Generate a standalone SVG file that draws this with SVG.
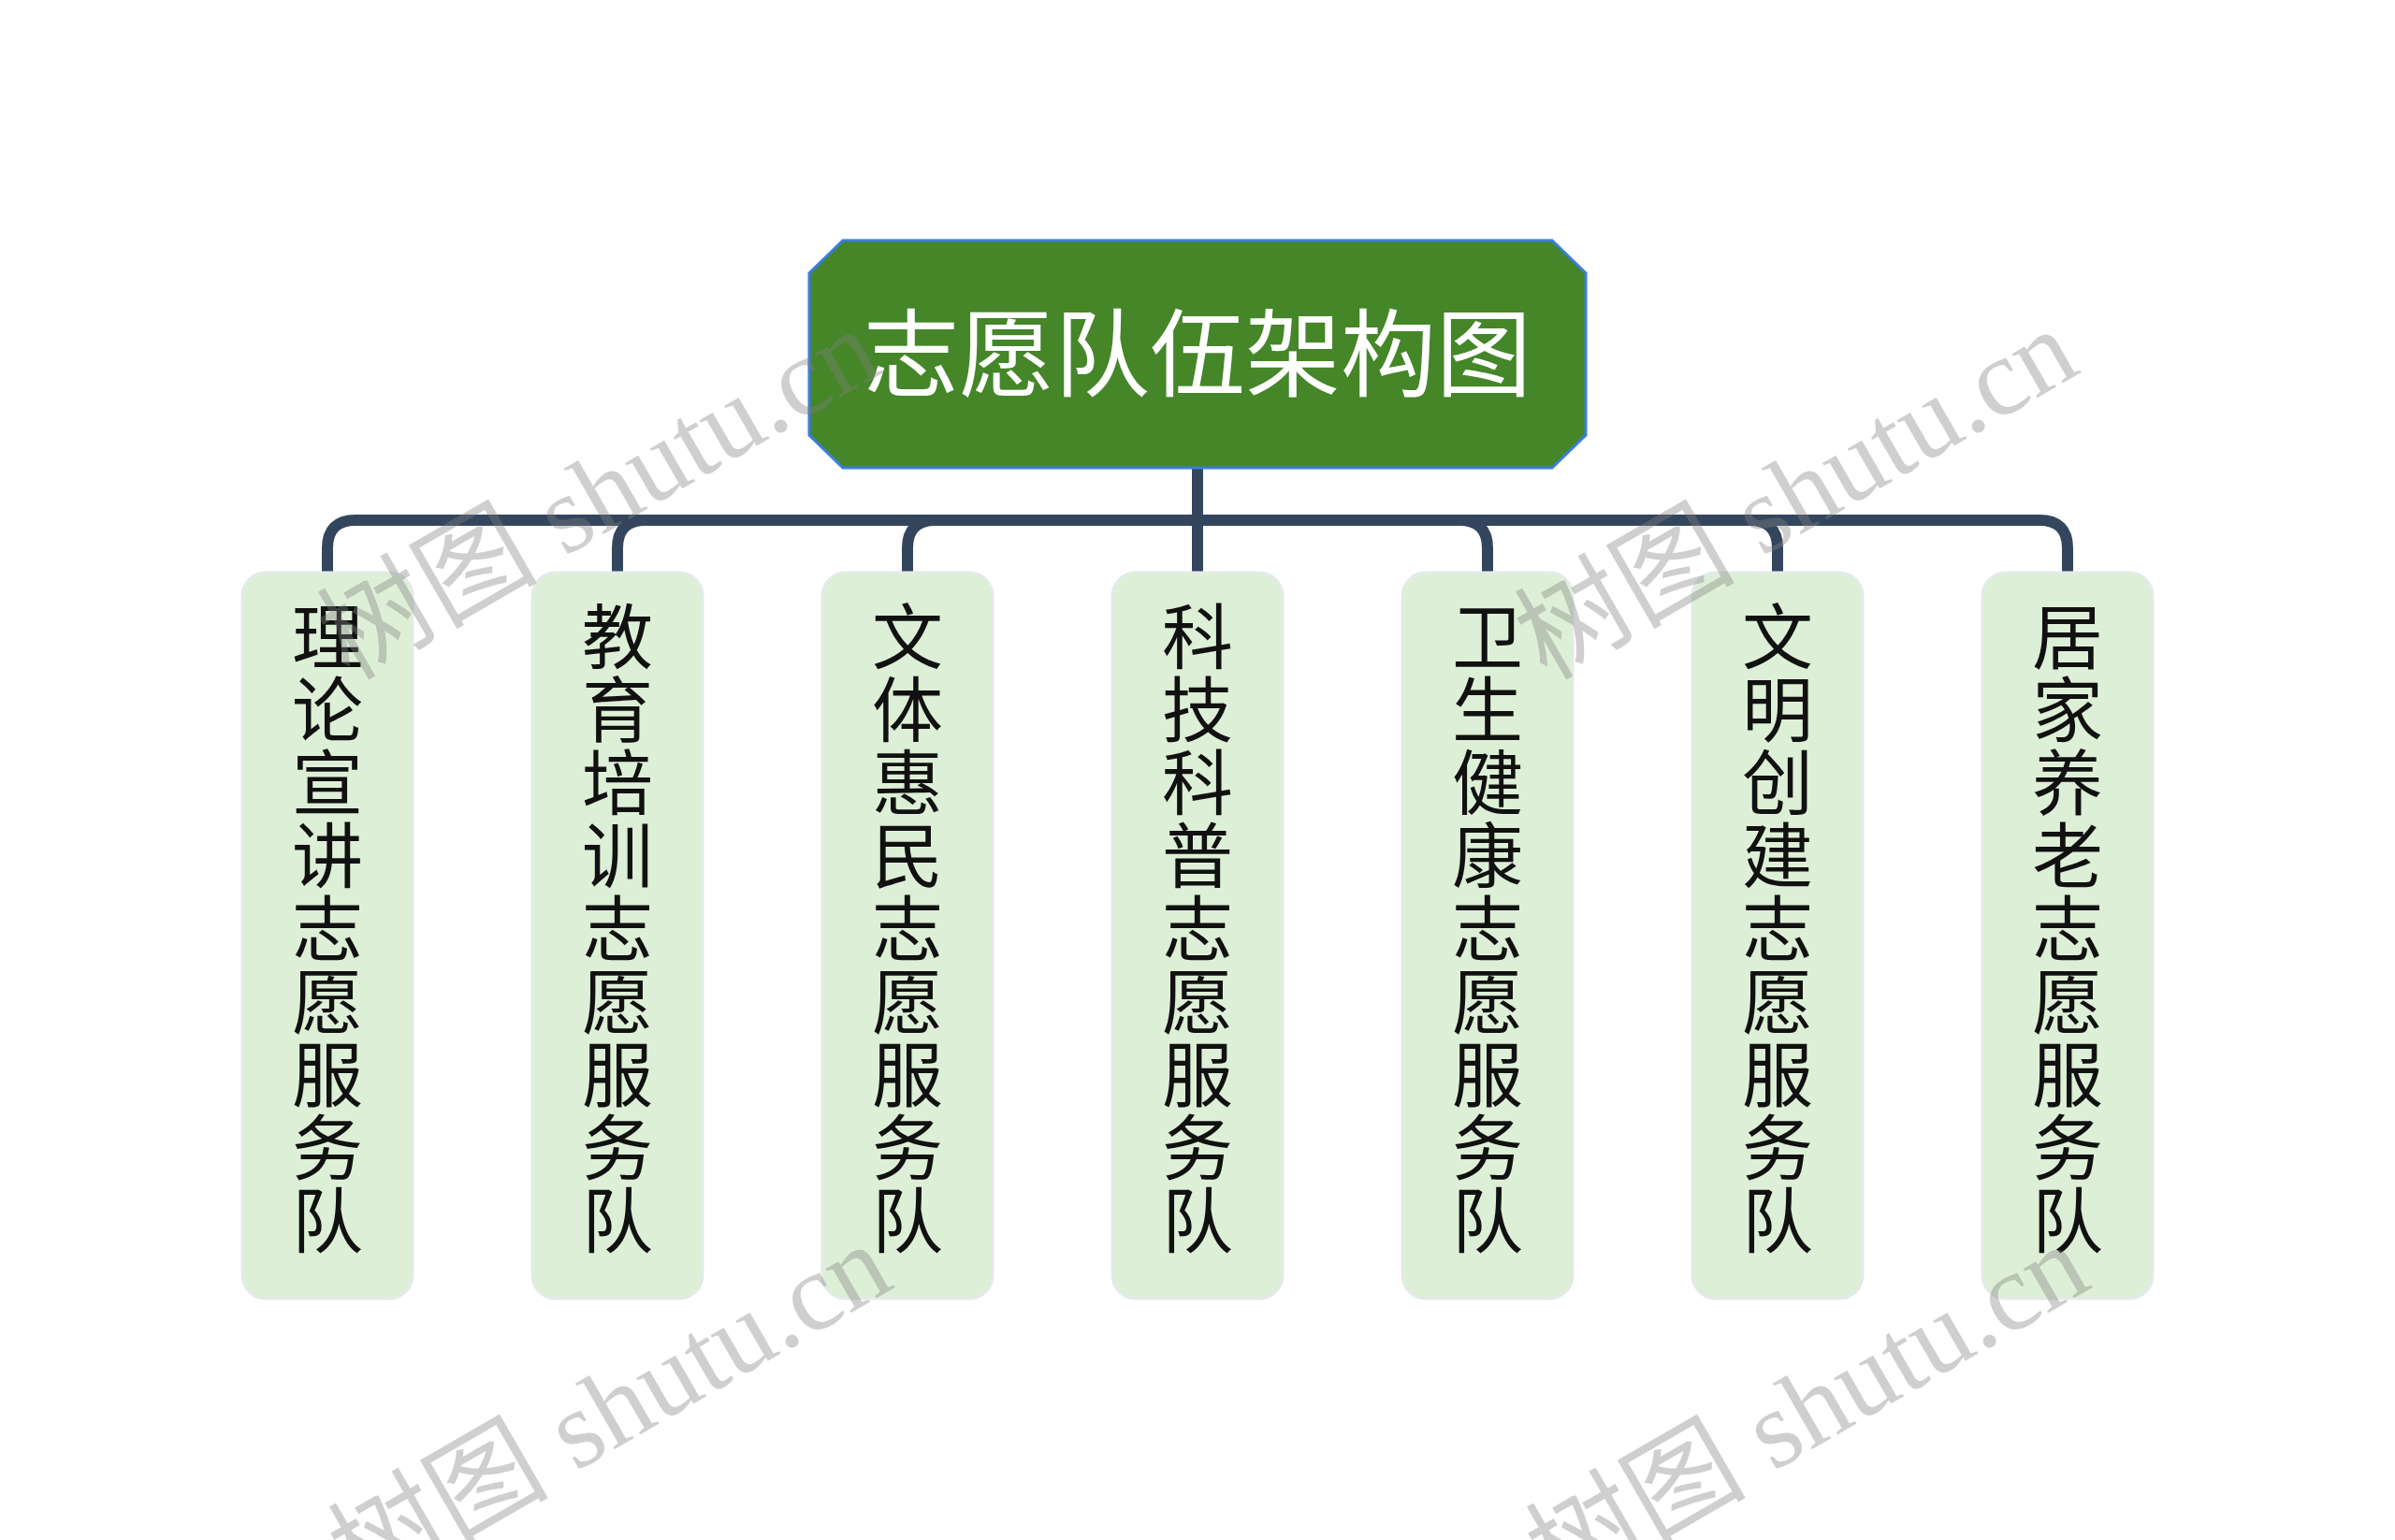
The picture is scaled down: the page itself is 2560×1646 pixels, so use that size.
<svg xmlns="http://www.w3.org/2000/svg" width="2560" height="1646" viewBox="0 0 2560 1646">
<style>
.conn{fill:none;stroke:#34465e;stroke-width:12}
.box{fill:#ddefd6;stroke:#e3ebe8;stroke-width:3}
.ct{font-family:"Noto Sans CJK SC","Noto Sans",sans-serif;font-size:76px;fill:#111;text-anchor:middle}
.tt{font-family:"Noto Sans CJK SC","Noto Sans",sans-serif;font-size:102px;fill:#ffffff;text-anchor:middle}
.wm{font-family:"Liberation Serif","Noto Sans CJK SC",serif;font-size:118px;fill:#808080;fill-opacity:0.38}
</style>
<rect width="2560" height="1646" fill="#ffffff"/>
<g id="connectors">
<path class="conn" d="M1280 500 V612"/>
<path class="conn" d="M1280 500 V556 H380 Q350 556 350 586 V612"/>
<path class="conn" d="M1280 500 V556 H690 Q660 556 660 586 V612"/>
<path class="conn" d="M1280 500 V556 H1000 Q970 556 970 586 V612"/>
<path class="conn" d="M1280 500 V556 H1560 Q1590 556 1590 586 V612"/>
<path class="conn" d="M1280 500 V556 H1870 Q1900 556 1900 586 V612"/>
<path class="conn" d="M1280 500 V556 H2180 Q2210 556 2210 586 V612"/>
</g>
<g id="root">
<polygon points="901,257 1659,257 1695,292 1695,465 1659,500 901,500 865,465 865,292" fill="#448628" stroke="#3b7ddd" stroke-width="3"/>
<text class="tt" x="1280" y="416">志愿队伍架构图</text>
</g>
<g id="n1"><rect class="box" x="259" y="612" width="182" height="776" rx="25"/>
<text class="ct" x="350" y="709"><tspan x="350">理</tspan><tspan x="350" dy="78">论</tspan><tspan x="350" dy="78">宣</tspan><tspan x="350" dy="78">讲</tspan><tspan x="350" dy="78">志</tspan><tspan x="350" dy="78">愿</tspan><tspan x="350" dy="78">服</tspan><tspan x="350" dy="78">务</tspan><tspan x="350" dy="78">队</tspan></text></g>
<g id="n2"><rect class="box" x="569" y="612" width="182" height="776" rx="25"/>
<text class="ct" x="660" y="709"><tspan x="660">教</tspan><tspan x="660" dy="78">育</tspan><tspan x="660" dy="78">培</tspan><tspan x="660" dy="78">训</tspan><tspan x="660" dy="78">志</tspan><tspan x="660" dy="78">愿</tspan><tspan x="660" dy="78">服</tspan><tspan x="660" dy="78">务</tspan><tspan x="660" dy="78">队</tspan></text></g>
<g id="n3"><rect class="box" x="879" y="612" width="182" height="776" rx="25"/>
<text class="ct" x="970" y="709"><tspan x="970">文</tspan><tspan x="970" dy="78">体</tspan><tspan x="970" dy="78">惠</tspan><tspan x="970" dy="78">民</tspan><tspan x="970" dy="78">志</tspan><tspan x="970" dy="78">愿</tspan><tspan x="970" dy="78">服</tspan><tspan x="970" dy="78">务</tspan><tspan x="970" dy="78">队</tspan></text></g>
<g id="n4"><rect class="box" x="1189" y="612" width="182" height="776" rx="25"/>
<text class="ct" x="1280" y="709"><tspan x="1280">科</tspan><tspan x="1280" dy="78">技</tspan><tspan x="1280" dy="78">科</tspan><tspan x="1280" dy="78">普</tspan><tspan x="1280" dy="78">志</tspan><tspan x="1280" dy="78">愿</tspan><tspan x="1280" dy="78">服</tspan><tspan x="1280" dy="78">务</tspan><tspan x="1280" dy="78">队</tspan></text></g>
<g id="n5"><rect class="box" x="1499" y="612" width="182" height="776" rx="25"/>
<text class="ct" x="1590" y="709"><tspan x="1590">卫</tspan><tspan x="1590" dy="78">生</tspan><tspan x="1590" dy="78">健</tspan><tspan x="1590" dy="78">康</tspan><tspan x="1590" dy="78">志</tspan><tspan x="1590" dy="78">愿</tspan><tspan x="1590" dy="78">服</tspan><tspan x="1590" dy="78">务</tspan><tspan x="1590" dy="78">队</tspan></text></g>
<g id="n6"><rect class="box" x="1809" y="612" width="182" height="776" rx="25"/>
<text class="ct" x="1900" y="709"><tspan x="1900">文</tspan><tspan x="1900" dy="78">明</tspan><tspan x="1900" dy="78">创</tspan><tspan x="1900" dy="78">建</tspan><tspan x="1900" dy="78">志</tspan><tspan x="1900" dy="78">愿</tspan><tspan x="1900" dy="78">服</tspan><tspan x="1900" dy="78">务</tspan><tspan x="1900" dy="78">队</tspan></text></g>
<g id="n7"><rect class="box" x="2119" y="612" width="182" height="776" rx="25"/>
<text class="ct" x="2210" y="709"><tspan x="2210">居</tspan><tspan x="2210" dy="78">家</tspan><tspan x="2210" dy="78">养</tspan><tspan x="2210" dy="78">老</tspan><tspan x="2210" dy="78">志</tspan><tspan x="2210" dy="78">愿</tspan><tspan x="2210" dy="78">服</tspan><tspan x="2210" dy="78">务</tspan><tspan x="2210" dy="78">队</tspan></text></g>
<g id="watermarks">
<text class="wm" x="373" y="728" transform="rotate(-30 373 728)">树图 shutu.cn</text>
<text class="wm" x="1653" y="728" transform="rotate(-30 1653 728)">树图 shutu.cn</text>
<text class="wm" x="385" y="1706" transform="rotate(-30 385 1706)">树图 shutu.cn</text>
<text class="wm" x="1665" y="1706" transform="rotate(-30 1665 1706)">树图 shutu.cn</text>
</g>
</svg>
